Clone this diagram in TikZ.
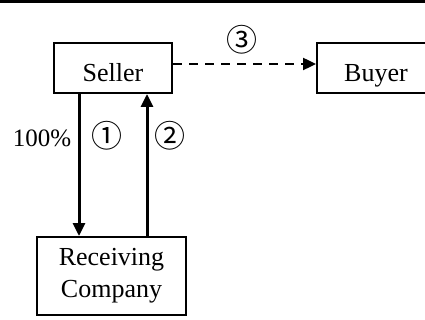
\documentclass[tikz,border=0pt]{standalone}
\usepackage{fontspec}
\setmainfont{Liberation Serif}
\newfontfamily\circfont{Noto Sans CJK SC}
\usetikzlibrary{arrows.meta}

\tikzset{
    party/.style={draw, line width=2pt, minimum width=118pt, minimum height=50pt, inner sep=0pt, font=\fontsize{26}{30}\selectfont},
    oneline/.style={party, text height=34pt, text depth=6pt},
    flow/.style={line width=3pt, -{Triangle[length=13pt,width=12pt]}},
    tag/.style={font=\fontsize{25}{30}\selectfont},
    circ/.style={font=\fontsize{31}{34}\circfont}
}

\begin{document}
\begin{tikzpicture}[x=1pt, y=-1pt]
        \clip (0, 0) rectangle (425, 320);
        \draw[line width=3.5pt] (0, 1.75) -- (425, 1.75);

        \node[oneline] (seller) at (113, 68) {Seller};
        \node[oneline] (buyer) at (376, 68) {Buyer};
        \node[party, minimum width=149pt, minimum height=78pt, align=center] (recv) at (111.5, 276) {Receiving\\[2pt]Company};

        \draw[flow, dash pattern=on 9pt off 7pt, line width=2.4pt] ([yshift=4pt]seller.east) -- ([yshift=4pt]buyer.west);
        \draw[flow] ([xshift=-34pt]seller.south) -- ([xshift=-34pt]seller.south |- recv.north);
        \draw[flow] ([xshift=34pt]seller.south |- recv.north) -- ([xshift=34pt]seller.south);

        \node[tag] (share) at (42, 138) {100\%};
        \node[circ] (one) at (107, 136) {①};
        \node[circ] (two) at (170, 136) {②};
        \node[circ] (three) at (242, 40) {③};
    \end{tikzpicture}
\end{document}
